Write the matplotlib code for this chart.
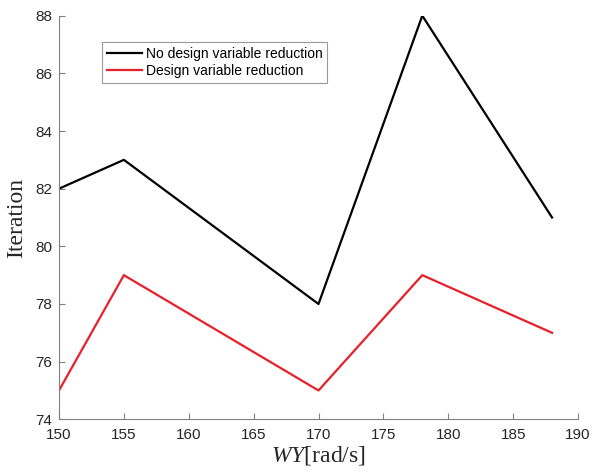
import matplotlib
matplotlib.use("Agg")
import matplotlib.pyplot as plt

wy = [150, 155, 170, 178, 188]
no_reduction = [82, 83, 78, 88, 81]
with_reduction = [75, 79, 75, 79, 77]
x_ticks = [150, 155, 160, 165, 170, 175, 180, 185, 190]
y_ticks = [74, 76, 78, 80, 82, 84, 86, 88]

plt.rcParams["mathtext.fontset"] = "custom"
plt.rcParams["mathtext.it"] = "Liberation Serif:italic"
plt.rcParams["mathtext.rm"] = "Liberation Serif"

fig = plt.figure(figsize=(5.93, 4.75), dpi=100)
ax = fig.add_axes([59 / 593, 1 - 419.3 / 475, (578 - 59) / 593, (419.3 - 15.7) / 475])

ax.plot(wy, no_reduction, color="black", lw=1.6, label="No design variable reduction")
ax.plot(wy, with_reduction, color="#e8202a", lw=1.6, label="Design variable reduction")

ax.set_xlim(150, 190)
ax.set_ylim(74, 88)
ax.set_xticks(x_ticks)
ax.set_yticks(y_ticks)

axis_gray = "#262626"
for side in ("top", "right"):
    ax.spines[side].set_visible(False)
for side in ("left", "bottom"):
    ax.spines[side].set_color("#808080")
    ax.spines[side].set_linewidth(0.8)
ax.tick_params(direction="in", length=4, width=0.8, color="#808080",
               labelcolor=axis_gray, labelsize=11)
ax.tick_params(axis="x", pad=6)
ax.tick_params(axis="y", pad=5)
for lbl in ax.get_xticklabels() + ax.get_yticklabels():
    lbl.set_fontfamily("Liberation Sans")

ax.set_xlabel(r"$\mathit{WY}$[rad/s]", family="Liberation Serif", fontsize=17,
              color=axis_gray, labelpad=2)
ax.set_ylabel("Iteration", family="Liberation Serif", fontsize=17, color=axis_gray,
              labelpad=6)

leg = ax.legend(loc="upper left", bbox_to_anchor=(0.083, 0.935), frameon=True, fancybox=False,
                prop={"family": "Liberation Sans", "size": 10}, handlelength=2.5,
                handletextpad=0.3, borderpad=0.35, labelspacing=0.25, borderaxespad=0)
leg.get_frame().set_edgecolor("#808080")
leg.get_frame().set_linewidth(0.8)

fig.savefig("out.png", dpi=100)
